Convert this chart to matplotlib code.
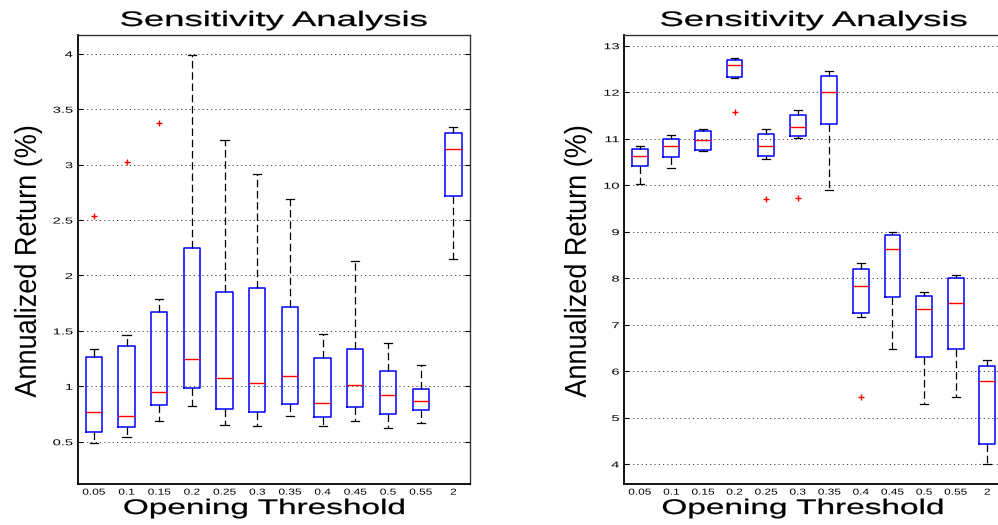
import matplotlib
matplotlib.use("Agg")
import matplotlib.pyplot as plt
from matplotlib.patheffects import AbstractPathEffect
from matplotlib.transforms import Affine2D

# ---------------- data ----------------
categories = ['0.05', '0.1', '0.15', '0.2', '0.25', '0.3', '0.35', '0.4', '0.45', '0.5', '0.55', '2']

left_hi = [1.334, 1.461, 1.789, 3.985, 3.220, 2.916, 2.687, 1.473, 2.133, 1.389, 1.196, 3.340]
left_q3 = [1.262, 1.364, 1.669, 2.250, 1.855, 1.886, 1.714, 1.256, 1.340, 1.136, 0.973, 3.286]
left_med = [0.771, 0.732, 0.949, 1.244, 1.078, 1.027, 1.090, 0.846, 1.009, 0.925, 0.870, 3.145]
left_q1 = [0.584, 0.633, 0.828, 0.988, 0.792, 0.765, 0.837, 0.720, 0.810, 0.747, 0.783, 2.714]
left_lo = [0.491, 0.539, 0.684, 0.819, 0.648, 0.645, 0.732, 0.642, 0.687, 0.620, 0.672, 2.148]
left_out = [[2.533], [3.027], [3.373], [], [], [], [], [], [], [], [], []]

right_hi = [10.851, 11.087, 11.202, 12.742, 11.202, 11.610, 12.463, 8.322, 8.996, 7.702, 8.072, 6.241]
right_q3 = [10.787, 10.987, 11.166, 12.699, 11.109, 11.503, 12.341, 8.193, 8.924, 7.623, 8.000, 6.105]
right_med = [10.629, 10.844, 10.966, 12.577, 10.851, 11.245, 11.997, 7.823, 8.623, 7.344, 7.472, 5.790]
right_q1 = [10.407, 10.615, 10.765, 12.319, 10.622, 11.059, 11.324, 7.258, 7.587, 6.313, 6.477, 4.430]
right_lo = [10.020, 10.360, 10.729, 12.298, 10.564, 11.023, 9.898, 7.157, 6.470, 5.282, 5.432, 4.008]
right_out = [[], [], [], [11.582], [9.698], [9.719], [], [5.432], [], [], [], []]

left_yticks = [0.5, 1, 1.5, 2, 2.5, 3, 3.5, 4]
left_yticklabels = ['0.5', '1', '1.5', '2', '2.5', '3', '3.5', '4']
right_yticks = [4, 5, 6, 7, 8, 9, 10, 11, 12, 13]
right_yticklabels = ['4', '5', '6', '7', '8', '9', '10', '11', '12', '13']

title_text = 'Sensitivity Analysis'
xlabel_text = 'Opening Threshold'
ylabel_text = 'Annualized Return (%)'


# ---------------- helpers ----------------
class Stretch(AbstractPathEffect):
    """Stretch rendered text in screen space (the reference image is stretched)."""
    def __init__(self, sx=1.0, sy=1.0, anchor='center', stroke=0.0):
        super().__init__()
        self.sx, self.sy, self.anchor, self.stroke = sx, sy, anchor, stroke

    def draw_path(self, renderer, gc, tpath, affine, rgbFace=None):
        verts = affine.transform(tpath.vertices)
        if len(verts) == 0:
            return
        x0, x1 = verts[:, 0].min(), verts[:, 0].max()
        y0, y1 = verts[:, 1].min(), verts[:, 1].max()
        axx = {'center': (x0 + x1) / 2, 'right': x1, 'left': x0}[self.anchor]
        ayy = (y0 + y1) / 2
        t = affine + Affine2D().translate(-axx, -ayy).scale(self.sx, self.sy).translate(axx, ayy)
        if self.stroke > 0 and rgbFace is not None:
            gc0 = renderer.new_gc()
            gc0.copy_properties(gc)
            gc0.set_linewidth(self.stroke)
            gc0.set_foreground(rgbFace)
            renderer.draw_path(gc0, tpath, t, rgbFace)
            gc0.restore()
        else:
            renderer.draw_path(gc, tpath, t, rgbFace)


plt.rcParams['font.family'] = ['Liberation Sans', 'DejaVu Sans']

W, H = 998, 525
fig = plt.figure(figsize=(W / 100, H / 100), dpi=100)

def make_stats(lo, q1, med, q3, hi, out):
    return [dict(whislo=a, q1=b, med=c, q3=d, whishi=e, fliers=f, label=lab)
            for a, b, c, d, e, f, lab in zip(lo, q1, med, q3, hi, out, categories)]

panels = [
    dict(rect=[77.5 / W, 1 - 484 / H, 392.2 / W, 449.3 / H],
         stats=make_stats(left_lo, left_q1, left_med, left_q3, left_hi, left_out),
         ylim=(0.119, 4.172), yt=left_yticks, ytl=left_yticklabels,
         xlab_x=0.4755, ylab_px=28),
    dict(rect=[624 / W, 1 - 484 / H, 379 / W, 449.3 / H],
         stats=make_stats(right_lo, right_q1, right_med, right_q3, right_hi, right_out),
         ylim=(3.571, 13.236), yt=right_yticks, ytl=right_yticklabels,
         xlab_x=0.471, ylab_px=578),
]

positions = list(range(1, len(categories) + 1))

for p in panels:
    ax = fig.add_axes(p['rect'])
    ax.bxp(p['stats'], positions=positions, widths=0.5, capwidths=0.25,
           showfliers=True, patch_artist=False,
           boxprops=dict(color='#0000ff', linewidth=1.1),
           medianprops=dict(color='#ff0000', linewidth=1.0),
           whiskerprops=dict(color='black', linewidth=0.9, linestyle=(0, (6, 3))),
           capprops=dict(color='black', linewidth=0.9),
           flierprops=dict(marker='+', markeredgecolor='#ff0000', markersize=5,
                           markeredgewidth=1.0, linestyle='none'))
    ax.set_xlim(0.5, 12.5)
    ax.set_ylim(*p['ylim'])
    ax.set_axisbelow(True)
    ax.yaxis.grid(True, color='#444444', linewidth=0.7, linestyle=(0, (1.2, 3.2)))
    ax.xaxis.grid(False)

    ax.set_yticks(p['yt'])
    ax.set_yticklabels(p['ytl'], fontsize=6.2)
    ax.tick_params(axis='y', direction='in', length=3.6, width=0.8, pad=3.4,
                   left=True, right=True)
    for lbl in ax.get_yticklabels():
        lbl.set_path_effects([Stretch(sx=1.7, anchor='right')])

    ax.set_xticks(positions)
    ax.set_xticklabels(categories, fontsize=6.2)
    ax.tick_params(axis='x', length=0, pad=2.6, bottom=False, top=False)
    for lbl in ax.get_xticklabels():
        lbl.set_path_effects([Stretch(sx=1.38, anchor='center')])

    for side in ['left', 'bottom']:
        ax.spines[side].set_linewidth(1.3)
        ax.spines[side].set_color('black')
    for side in ['top', 'right']:
        ax.spines[side].set_linewidth(1.0)
        ax.spines[side].set_color('#333333')

    # title
    t = ax.text(0.5, 1 + 8.7 / 449.3, title_text, transform=ax.transAxes,
                ha='center', va='baseline', fontsize=15.1)
    t.set_path_effects([Stretch(sx=1.74, stroke=0.2)])
    # x label
    xl = ax.text(p['xlab_x'], -30 / 449.3, xlabel_text, transform=ax.transAxes,
                 ha='center', va='baseline', fontsize=15.2)
    xl.set_path_effects([Stretch(sx=1.58, stroke=0.2)])
    # y label
    yl = fig.text(p['ylab_px'] / W, 1 - 261 / H, ylabel_text, rotation=90,
                  ha='center', va='center', fontsize=19.5)
    yl.set_path_effects([Stretch(sx=1.12)])

fig.savefig('out.png', dpi=100)
